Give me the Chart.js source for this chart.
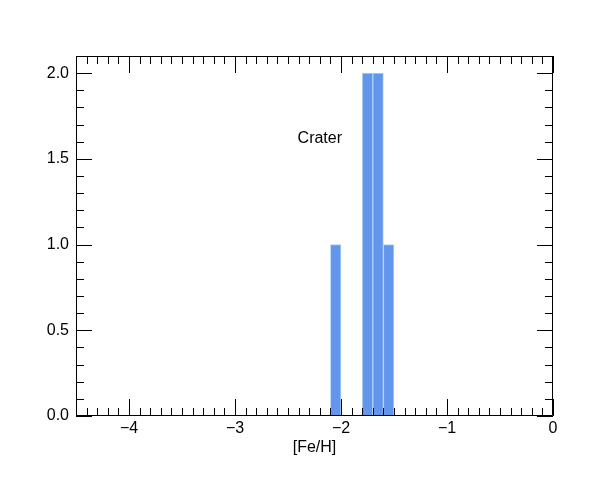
<!DOCTYPE html>
<html><head><meta charset="utf-8">
<script src="https://cdn.jsdelivr.net/npm/chart.js@4"></script>
<style>html,body{margin:0;padding:0;background:#fff}#wrap{width:599px;height:479px}</style>
</head><body><div id="wrap"><canvas id="c" width="599" height="479"></canvas></div>
<script>
const binCenters = [-2.05, -1.75, -1.65, -1.55];
const counts = [1, 2, 2, 1];
const xTicks = [-4, -3, -2, -1, 0];
const yTicks = [0, 0.5, 1.0, 1.5, 2.0];
const xRange = [-4.5, 0];
const yRange = [0, 2.1];
const label = {text: 'Crater', x: -2.2, y: 1.62};

const FONT = 'Liberation Sans, Arial, sans-serif';

const axesPlugin = {
  id: 'idlAxes',
  afterDatasetsDraw(chart) {
    const {ctx, chartArea: a, scales: {x, y}} = chart;
    ctx.save();
    ctx.strokeStyle = '#000';
    ctx.lineWidth = 1;
    ctx.beginPath();
    ctx.rect(a.left + 0.5, a.top + 0.5, a.right - a.left - 1, a.bottom - a.top - 1);
    ctx.stroke();
    ctx.beginPath();
    for (let i = Math.round(xRange[0] * 10); i <= Math.round(xRange[1] * 10); i++) {
      const v = i / 10;
      const px = Math.round(x.getPixelForValue(v)) + 0.5;
      const major = i % 10 === 0;
      const len = major ? 17 : 8;
      ctx.moveTo(px, a.bottom); ctx.lineTo(px, a.bottom - len);
      ctx.moveTo(px, a.top); ctx.lineTo(px, a.top + len);
    }
    for (let i = Math.round(yRange[0] * 10); i <= Math.round(yRange[1] * 10); i++) {
      const v = i / 10;
      const py = Math.round(y.getPixelForValue(v)) + 0.5;
      const major = i % 5 === 0;
      const len = major ? 16 : 8;
      ctx.moveTo(a.left, py); ctx.lineTo(a.left + len, py);
      ctx.moveTo(a.right, py); ctx.lineTo(a.right - len, py);
    }
    ctx.stroke();
    ctx.fillStyle = '#000';
    ctx.font = '16px ' + FONT;
    ctx.textAlign = 'center';
    ctx.textBaseline = 'middle';
    ctx.fillText(label.text, x.getPixelForValue(label.x), y.getPixelForValue(label.y));
    ctx.restore();
  }
};

new Chart(document.getElementById('c'), {
  type: 'bar',
  data: {
    datasets: [{
      data: binCenters.map((c, i) => ({x: c, y: counts[i]})),
      backgroundColor: 'rgb(100,149,237)',
      borderColor: 'rgb(170,215,240)',
      borderWidth: 1,
      barPercentage: 1,
      categoryPercentage: 1
    }]
  },
  options: {
    responsive: false,
    animation: false,
    devicePixelRatio: 1,
    layout: {padding: {left: 0, top: 56, right: 46, bottom: 0}},
    plugins: {legend: {display: false}, tooltip: {enabled: false}},
    scales: {
      x: {
        type: 'linear', min: xRange[0], max: xRange[1], offset: false,
        grid: {display: false, drawTicks: false},
        border: {display: false},
        afterBuildTicks: s => { s.ticks = xTicks.map(v => ({value: v})); },
        afterFit: s => { s.height = 63; },
        ticks: {
          color: '#000', font: {family: FONT, size: 16}, padding: 3,
          maxRotation: 0, autoSkip: false,
          callback: v => v === 0 ? '0' : String(v).replace('-', '\u2212')
        },
        title: {display: true, text: '[Fe/H]', color: '#000', font: {family: FONT, size: 16}, padding: {top: 0, bottom: 22}}
      },
      y: {
        type: 'linear', min: yRange[0], max: yRange[1],
        grid: {display: false, drawTicks: false},
        border: {display: false},
        afterBuildTicks: s => { s.ticks = yTicks.map(v => ({value: v})); },
        afterFit: s => { s.width = 76; },
        ticks: {
          color: '#000', font: {family: FONT, size: 16}, padding: 7,
          callback: v => Number(v).toFixed(1)
        }
      }
    }
  },
  plugins: [axesPlugin]
});
</script></body></html>
